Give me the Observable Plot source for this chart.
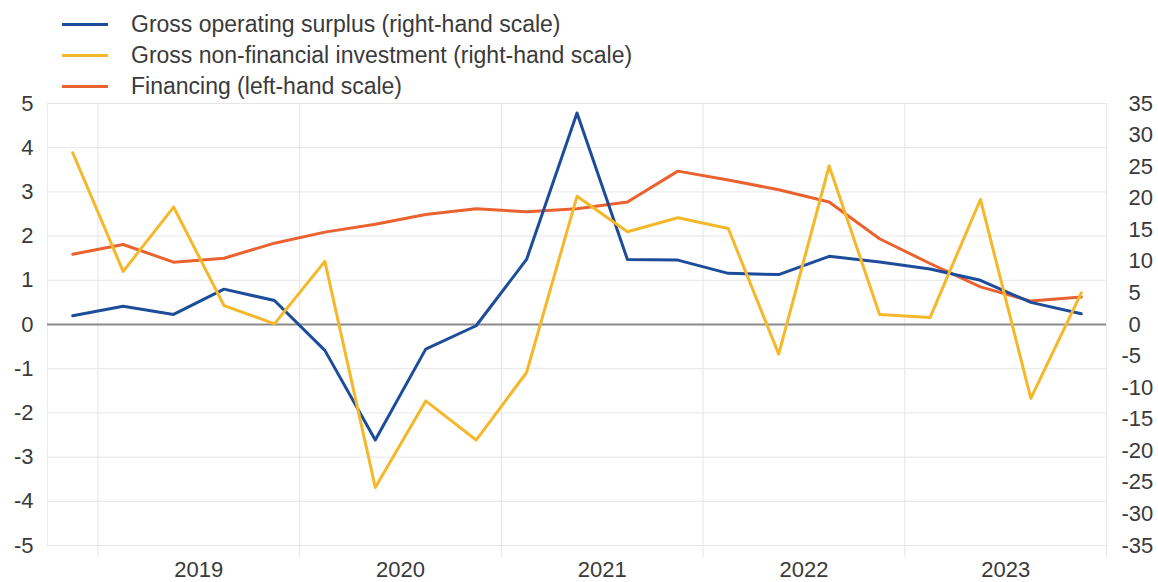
<!DOCTYPE html>
<html>
<head>
<meta charset="utf-8">
<script src="https://cdn.jsdelivr.net/npm/d3@7"></script>
<script src="https://cdn.jsdelivr.net/npm/@observablehq/plot@0.6"></script>
<style>
  html, body { margin: 0; padding: 0; background: #fff; }
  body { width: 1158px; height: 582px; overflow: hidden; font-family: "Liberation Sans", Arial, sans-serif; color: #3a3a3a; }
  #legend { position: relative; height: 95px; }
  .row { position: absolute; left: 62px; display: flex; align-items: center; font-size: 23px; line-height: 26px; white-space: nowrap; }
  .sw { width: 46px; height: 3px; margin-right: 23px; }
  #chart svg { overflow: visible; display: block; }
</style>
</head>
<body>
<div id="legend"></div>
<div id="chart"></div>
<script>
// Quarters (2018 Q4 – 2023 Q4)
const quarters = ["2018Q4",
  "2019Q1","2019Q2","2019Q3","2019Q4",
  "2020Q1","2020Q2","2020Q3","2020Q4",
  "2021Q1","2021Q2","2021Q3","2021Q4",
  "2022Q1","2022Q2","2022Q3","2022Q4",
  "2023Q1","2023Q2","2023Q3","2023Q4"];

// Gross operating surplus (right-hand scale)
const grossOperatingSurplus = [1.4, 2.9, 1.6, 5.6, 3.8, -4.1, -18.3, -3.9, -0.2, 10.3, 33.5, 10.3, 10.2, 8.1, 7.9, 10.8, 9.9, 8.8, 7.0, 3.5, 1.7];
// Gross non-financial investment (right-hand scale)
const grossInvestment = [27.2, 8.4, 18.6, 3.0, 0.1, 10.0, -25.8, -12.1, -18.3, -7.6, 20.3, 14.7, 16.9, 15.2, -4.7, 25.1, 1.6, 1.1, 19.8, -11.7, 5.0];
// Financing (left-hand scale)
const financing = [1.59, 1.81, 1.41, 1.50, 1.84, 2.09, 2.27, 2.49, 2.62, 2.55, 2.62, 2.77, 3.47, 3.27, 3.05, 2.77, 1.94, 1.38, 0.85, 0.53, 0.62];

// Tick labels
const leftTicks = [-5, -4, -3, -2, -1, 0, 1, 2, 3, 4, 5];
const rightTicks = [-35, -30, -25, -20, -15, -10, -5, 0, 5, 10, 15, 20, 25, 30, 35];
const rightRatio = 7; // right scale -35..35 vs left -5..5
const years = [2019, 2020, 2021, 2022, 2023];
const yearBounds = [2019, 2020, 2021, 2022, 2023, 2024];

const series = [
  {name: "Gross operating surplus (right-hand scale)", color: "#1d4c9b", values: grossOperatingSurplus, right: true},
  {name: "Gross non-financial investment (right-hand scale)", color: "#f5b82a", values: grossInvestment, right: true},
  {name: "Financing (left-hand scale)", color: "#ea6230", values: financing, right: false}
];

const qx = q => +q.slice(0, 4) + (+q.slice(5) - 0.5) / 4;

const rows = [];
for (const s of series) {
  quarters.forEach((q, i) => rows.push({series: s.name, x: qx(q), y: s.right ? s.values[i] / rightRatio : s.values[i]}));
}

// legend
const legend = document.getElementById("legend");
const rowTops = [11, 42, 73];
series.forEach((s, i) => {
  const r = document.createElement("div");
  r.className = "row";
  r.style.top = rowTops[i] + "px";
  r.innerHTML = `<div class="sw" style="background:${s.color}"></div><span>${s.name}</span>`;
  legend.appendChild(r);
});

const fmt = d => String(Math.round(d));
const axisStyle = {fill: "#3a3a3a", fontSize: 22, tickSize: 0};

const chart = Plot.plot({
  width: 1158,
  height: 487,
  marginTop: 8,
  marginBottom: 37,
  marginLeft: 47,
  marginRight: 52,
  style: {fontFamily: "'Liberation Sans', Arial, sans-serif", fontSize: "22px", color: "#3a3a3a", background: "#fff"},
  x: {domain: [2018.75, 2024], axis: null},
  y: {domain: [-5, 5], axis: null},
  marks: [
    Plot.ruleY(leftTicks, {stroke: "#e6e6e6", strokeWidth: 1}),
    Plot.ruleX(yearBounds, {stroke: "#e6e6e6", strokeWidth: 1, insetBottom: -12}),
    Plot.ruleX([2018.75], {stroke: "#ededed", strokeWidth: 1}),
    Plot.ruleY([0], {stroke: "#8a8a8a", strokeWidth: 2}),
    Plot.axisY(leftTicks, {...axisStyle, anchor: "left", label: null, tickPadding: 14, tickFormat: fmt}),
    Plot.axisY(rightTicks.filter(v => v >= 0).map(v => v / rightRatio), {...axisStyle, anchor: "right", label: null, tickPadding: 22, textAnchor: "start", tickFormat: d => fmt(d * rightRatio)}),
    Plot.axisY(rightTicks.filter(v => v < 0).map(v => v / rightRatio), {...axisStyle, anchor: "right", label: null, tickPadding: 15, textAnchor: "start", tickFormat: d => fmt(d * rightRatio)}),
    Plot.axisX(years.map(y => y + 0.5), {...axisStyle, anchor: "bottom", label: null, tickPadding: 16, tickFormat: d => String(Math.floor(d))}),
    Plot.line(rows.filter(d => d.series === series[2].name), {x: "x", y: "y", stroke: series[2].color, strokeWidth: 3}),
    Plot.line(rows.filter(d => d.series === series[0].name), {x: "x", y: "y", stroke: series[0].color, strokeWidth: 3}),
    Plot.line(rows.filter(d => d.series === series[1].name), {x: "x", y: "y", stroke: series[1].color, strokeWidth: 3})
  ]
});
document.getElementById("chart").appendChild(chart);
</script>
</body>
</html>
